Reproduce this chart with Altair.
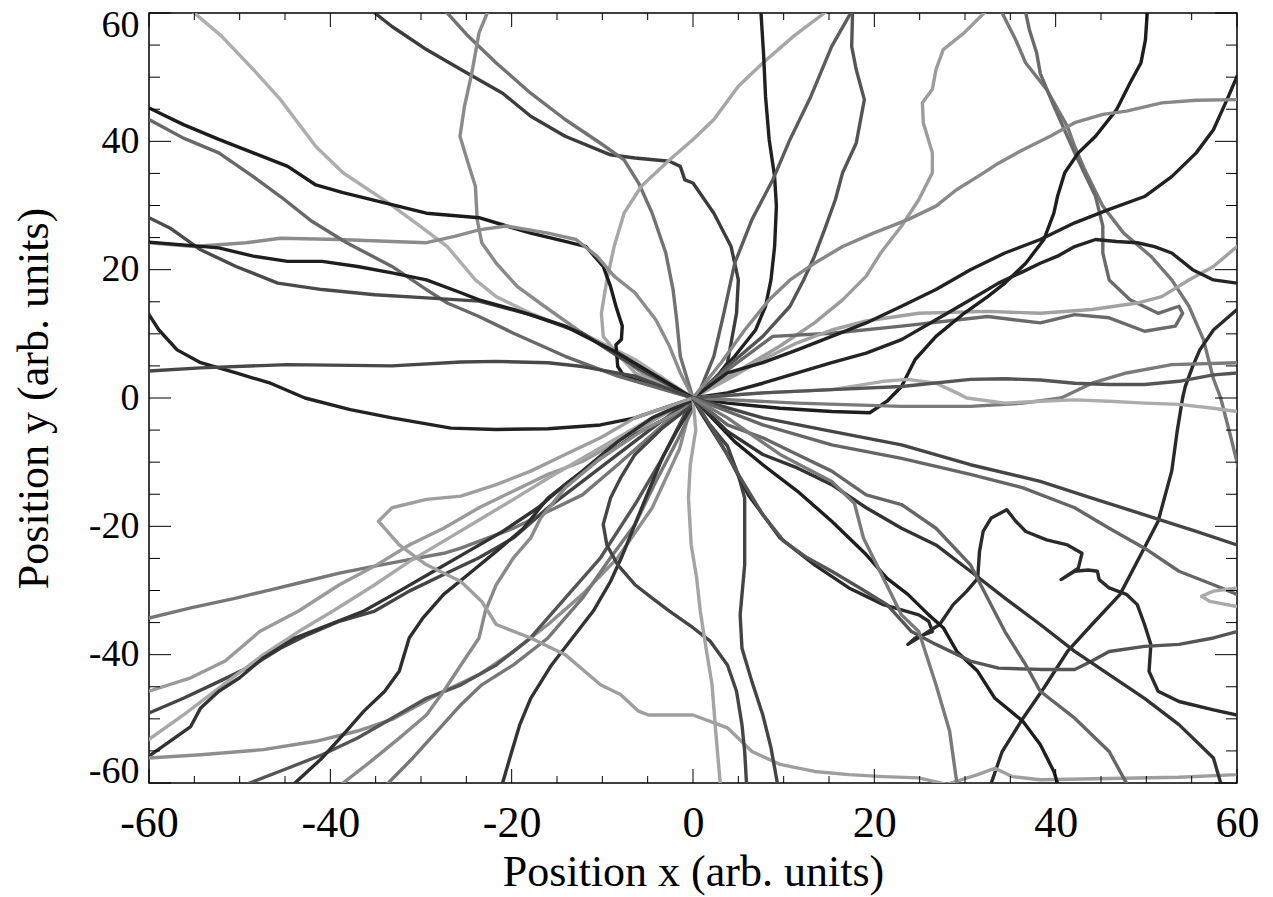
import altair as alt
import pandas as pd

# Random-walk trajectories, every one as a list of (x, y) points in arbitrary units.
t_a = [(0, 0), (-6.4, 6.0), (-12.2, 10.1), (-17.9, 13.2), (-21.7, 15.8), (-24.0, 18.4), (-27.1, 23.6), (-30.1, 26.8), (-33.6, 30.4), (-38.6, 35.1), (-41.6, 39.2), (-45.5, 46.5), (-48.5, 51.2), (-52.0, 56.4), (-55.0, 60), (-56, 61.5)]
t_b = [(0, 0), (1.9, 1.8), (3.8, 5.5), (4.8, 13.2), (5.0, 18.4), (4.2, 23.6), (2.3, 28.8), (0, 33.5), (-0.9, 34.0), (-1.4, 36.1), (-2.6, 36.9), (-6.4, 37.4), (-9.1, 37.9), (-14.1, 40.8), (-17.9, 43.9), (-21.0, 47.5), (-25.6, 51.2), (-29.4, 54.3), (-33.2, 57.9), (-35.1, 60), (-36, 61)]
t_c = [(0, 0), (-1.4, 6.5), (-1.8, 12.2), (-2.2, 16.9), (-3.0, 22.6), (-4.5, 28.8), (-6.0, 33.5), (-7.6, 37.1), (-10.2, 39.7), (-14.1, 43.4), (-17.9, 47.5), (-21.7, 52.2), (-24.8, 56.4), (-27.1, 60), (-28, 61)]
t_d = [(0, 0), (-4.5, 2.9), (-8.3, 6.5), (-12.2, 10.1), (-16.4, 14.3), (-19.4, 17.4), (-21.7, 21.0), (-23.3, 24.2), (-23.8, 27.8), (-24.0, 33.0), (-24.8, 36.6), (-25.7, 40.8), (-25.2, 45.5), (-24.4, 50.6), (-23.6, 56.9), (-22.7, 60), (-22.4, 61)]
t_e = [(0, 0), (-6.4, 3.9), (-8.7, 7.5), (-9.9, 9.6), (-10.1, 13.2), (-9.5, 18.4), (-8.7, 23.6), (-7.6, 28.8), (-5.7, 33.0), (-2.6, 37.1), (0, 40.3), (2.3, 43.4), (5.0, 48.6), (7.7, 52.2), (11.1, 56.4), (14.5, 60), (15.5, 61)]
t_f = [(0, 0), (-7.6, 3.4), (-8.3, 4.9), (-8.5, 8.3), (-7.9, 9.1), (-7.8, 11.2), (-8.5, 14.3), (-9.1, 17.4), (-9.9, 20.5), (-11.8, 23.6), (-14.1, 24.4), (-17.9, 25.7), (-21.0, 27.0), (-23.6, 28.1), (-29.4, 28.8), (-34.0, 30.4), (-38.6, 32.0), (-41.6, 33.2), (-44.7, 36.1), (-48.5, 38.2), (-52.3, 40.3), (-56.2, 42.6), (-60, 45.2), (-61, 45.8)]
t_g = [(0, 0), (-1.4, 3.9), (-2.6, 8.1), (-4.1, 12.2), (-6.4, 16.4), (-8.7, 19.0), (-10.6, 22.1), (-12.9, 24.7), (-16.0, 25.7), (-20.6, 26.8), (-23.6, 26.2), (-26.3, 25.2), (-29.4, 24.2), (-33.2, 24.4), (-39.0, 24.7), (-45.5, 24.9), (-49.3, 24.2), (-55.0, 23.6), (-60, 24.2), (-61, 24.3)]
t_h = [(0, 0), (-8.3, 3.4), (-14.1, 6.5), (-19.8, 10.1), (-23.6, 12.7), (-27.1, 14.8), (-29.4, 16.9), (-33.2, 20.5), (-38.2, 24.2), (-42.0, 27.5), (-45.5, 31.4), (-48.5, 34.5), (-52.3, 38.2), (-56.2, 40.5), (-60, 43.4), (-61, 44)]
t_i = [(0, 0), (-6.4, 4.9), (-12.2, 10.1), (-17.9, 13.0), (-23.6, 15.1), (-29.4, 15.6), (-35.1, 16.1), (-40.9, 16.9), (-45.8, 17.9), (-50.4, 20.5), (-54.3, 23.1), (-57.7, 26.5), (-60, 28.1), (-61, 28.8)]
t_j = [(0, 0), (-8.3, 7.0), (-14.1, 11.2), (-19.8, 13.8), (-23.6, 15.3), (-25.6, 16.4), (-29.4, 18.4), (-33.2, 19.5), (-37.0, 20.5), (-40.9, 21.3), (-44.7, 21.3), (-48.5, 22.1), (-52.3, 23.4), (-60, 24.3), (-61, 24.4)]
t_k = [(0, 0), (-6.4, -3.1), (-10.2, -4.2), (-16.0, -4.8), (-21.7, -4.9), (-26.7, -4.7), (-33.2, -3.1), (-37.8, -1.8), (-42.8, 0), (-46.6, 2.3), (-50.4, 3.9), (-54.3, 5.5), (-56.9, 7.5), (-58.9, 10.6), (-60, 13.0), (-61, 15)]
t_l = [(0, 0), (-6.4, 3.4), (-12.2, 4.9), (-16.0, 5.5), (-21.7, 5.7), (-25.6, 5.6), (-33.2, 5.0), (-44.7, 5.2), (-54.3, 4.7), (-60, 4.2), (-61, 4.1)]
t_n = [(0, 0), (2.3, 2.9), (4.6, 6.5), (6.9, 10.6), (8.0, 14.3), (8.6, 18.4), (9.0, 23.6), (9.2, 29.9), (9.0, 34.5), (8.4, 40.3), (8.0, 47.0), (7.8, 53.2), (7.5, 60), (7.5, 61)]
t_o = [(0, 0), (0.8, 1.3), (2.3, 6.5), (3.4, 13.2), (4.6, 21.0), (6.5, 27.8), (8.8, 34.0), (10.7, 40.3), (13.0, 47.0), (15.3, 54.8), (17.4, 60), (17.8, 61)]
t_p = [(0, 0), (3.8, 4.9), (7.7, 9.6), (10.7, 14.3), (12.2, 18.4), (13.4, 22.1), (14.5, 26.2), (15.7, 30.9), (16.5, 35.1), (18.0, 39.7), (18.9, 46.5), (18.0, 51.2), (17.5, 54.8), (17.6, 60), (17.6, 61)]
t_q = [(0, 0), (4.6, 3.9), (9.6, 8.1), (13.4, 11.7), (16.5, 15.3), (19.1, 19.0), (20.7, 22.6), (23.0, 26.8), (24.9, 30.9), (26.4, 35.1), (26.4, 38.2), (25.4, 42.9), (25.3, 46.0), (26.4, 48.1), (26.8, 51.2), (27.6, 54.3), (29.9, 56.9), (32.1, 60), (33, 61)]
t_r = [(33.5, 61.5), (34.1, 60), (35.6, 55.8), (36.7, 52.2), (39.0, 48.1), (41.3, 42.3), (42.1, 39.2), (43.2, 35.6), (45.2, 29.9), (47.5, 25.7), (50.5, 22.1), (52.8, 18.4), (54.7, 14.3), (56.3, 9.1), (57.4, 3.0), (58.2, 0), (59.3, -6.0), (60, -10), (60.5, -13)]
t_s = [(0, 0), (3.8, 4.4), (8.8, 9.6), (15.3, 10.1), (23.0, 11.2), (32.5, 12.7), (38.3, 11.7), (42.1, 13.0), (45.9, 12.5), (49.8, 10.4), (53.2, 11.2), (54.0, 13.2), (53.6, 14.3), (51.3, 13.2), (48.2, 15.3), (45.9, 18.4), (45.2, 22.6), (45.2, 26.8), (44.4, 31.4), (42.1, 38.2), (39.8, 45.5), (38.3, 50.6), (37.9, 53.8), (37.1, 57.4), (36.7, 60), (36.6, 61)]
t_t = [(0, 0), (3.8, 2.9), (7.7, 6.0), (11.5, 8.6), (15.3, 10.6), (19.1, 12.0), (24.9, 13.2), (32.5, 13.5), (38.3, 13.2), (44.0, 13.8), (49.0, 14.8), (51.7, 15.8), (54.7, 18.4), (57.4, 20.5), (60, 23.6), (61, 25)]
t_u = [(0, 0), (3.8, -0.8), (9.6, -1.6), (15.3, -2.1), (19.5, -2.3), (21.4, -0.5), (23.0, 1.8), (24.5, 6.0), (26.8, 9.6), (29.9, 13.2), (32.5, 15.8), (34.4, 17.9), (36.7, 21.0), (38.7, 24.7), (39.8, 28.8), (40.2, 31.4), (41.0, 35.1), (42.5, 38.2), (44.4, 40.8), (46.7, 44.9), (48.2, 49.1), (49.4, 52.2), (49.9, 55.8), (50.1, 60), (50.1, 61)]
t_v = [(0, 0), (3.8, 3.9), (7.7, 5.5), (11.5, 7.5), (15.3, 9.6), (19.1, 11.7), (23.0, 14.3), (26.8, 16.9), (30.6, 20.0), (34.4, 22.6), (38.3, 24.7), (42.1, 27.3), (45.9, 29.4), (49.8, 31.4), (52.8, 34.5), (55.5, 38.2), (57.4, 41.8), (58.9, 46.5), (60, 50.1), (60.5, 52)]
t_w = [(0, 0), (3.8, 0.8), (7.7, 2.3), (11.5, 3.9), (15.3, 5.5), (19.1, 7.0), (23.0, 9.1), (26.8, 12.2), (30.6, 15.3), (33.7, 17.9), (36.4, 19.7), (38.3, 21.0), (40.2, 22.1), (42.1, 23.6), (44.4, 24.7), (46.7, 24.4), (49.0, 24.2), (50.9, 23.6), (52.8, 22.6), (55.1, 20.0), (57.4, 18.4), (60, 17.9), (61, 17.8)]
t_x = [(0, 0), (3.1, 5.5), (5.7, 10.6), (8.4, 15.3), (10.7, 18.4), (13.4, 21.0), (16.5, 23.6), (19.9, 25.7), (23.7, 27.8), (26.8, 29.9), (29.1, 32.5), (31.4, 34.5), (33.7, 36.6), (36.4, 38.7), (39.4, 40.8), (42.1, 42.9), (45.2, 44.2), (47.8, 44.7), (51.7, 46.0), (55.5, 46.4), (60, 46.5), (61, 46.5)]
t_y = [(62, 18), (60, 13.8), (57.4, 10.6), (55.9, 7.5), (55.1, 4.9), (54.3, 1.8), (54.0, 0), (53.4, -5.2), (52.8, -11.4), (51.3, -19.2), (49.4, -24.4), (47.1, -30.6), (44.0, -35.3), (41.3, -39.5), (38.7, -45.2), (36.4, -49.9), (34.1, -55.1), (32.9, -60), (32.5, -61)]
t_z = [(0, 0), (11.5, -0.8), (23.0, -1.3), (30.6, -1.3), (36.4, -0.8), (40.6, 0), (44.0, 2.3), (47.8, 3.9), (52.8, 5.2), (60, 5.5), (61, 5.5)]
t_aa = [(0, 0), (7.7, 0.8), (15.3, 1.3), (21.0, 2.6), (23.7, 2.9), (26.8, 2.3), (29.1, 0.8), (30.2, 0), (34.4, -0.8), (38.3, -0.5), (42.1, -0.3), (45.9, -0.5), (49.8, -0.8), (53.6, -1.0), (57.4, -1.6), (60, -2.1), (61, -2.3)]
t_bb = [(0, 0), (7.7, 0.8), (15.3, 1.3), (23.0, 1.8), (30.6, 2.9), (34.4, 3.0), (38.3, 2.8), (42.1, 2.3), (45.9, 2.1), (49.8, 2.1), (53.6, 2.6), (57.4, 3.6), (60, 3.9), (61, 4)]
t_cc = [(0, 0), (-4.5, -5.7), (-8.3, -10.4), (-12.2, -15.1), (-16.0, -17.7), (-19.8, -20.3), (-25.6, -23.4), (-27.5, -24.2), (-31.3, -25.2), (-35.1, -26.2), (-39.0, -27.3), (-42.8, -28.6), (-46.6, -29.9), (-50.4, -31.2), (-55.4, -32.7), (-60, -34.3), (-61, -34.6)]
t_dd = [(0, 0), (-4.5, -3.6), (-8.3, -6.8), (-12.2, -9.9), (-16.0, -11.9), (-19.8, -14.5), (-23.6, -17.1), (-27.5, -20.3), (-31.3, -22.9), (-35.1, -26.2), (-39.0, -29.1), (-43.5, -33.2), (-47.8, -36.4), (-51.6, -41.0), (-55.4, -43.6), (-60, -45.7), (-61, -46)]
t_ee = [(0, 0), (-4.5, -4.7), (-8.3, -8.8), (-12.2, -13.0), (-16.0, -17.1), (-19.8, -21.8), (-23.6, -24.9), (-27.5, -27.5), (-31.3, -30.1), (-35.1, -33.2), (-39.0, -34.8), (-42.8, -37.1), (-45.5, -39.0), (-48.5, -41.6), (-52.3, -44.2), (-56.2, -46.8), (-60, -49.1), (-61, -49.6)]
t_ff = [(0, 0), (-4.5, -3.1), (-8.3, -6.2), (-12.2, -9.4), (-16.0, -12.5), (-19.8, -15.8), (-23.6, -19.0), (-27.5, -22.3), (-31.3, -25.5), (-35.1, -29.1), (-39.7, -33.2), (-43.5, -36.4), (-47.4, -40.0), (-52.3, -45.2), (-56.2, -49.4), (-60, -53.2), (-61, -54)]
t_gg = [(0, -1.0), (-6.4, -5.7), (-10.2, -9.4), (-14.1, -13.5), (-17.1, -17.1), (-21.0, -20.8), (-24.8, -23.9), (-28.6, -27.0), (-32.4, -30.1), (-36.3, -33.2), (-40.1, -35.3), (-43.9, -37.4), (-47.4, -40.5), (-50.0, -43.6), (-52.3, -45.7), (-54.3, -48.3), (-55.4, -51.2), (-57.7, -53.5), (-60, -55.8), (-61, -56.5)]
t_hh = [(0, 0), (-1.5, -8.0), (-4.5, -17.1), (-8.3, -24.9), (-12.2, -30.6), (-16.0, -35.3), (-19.8, -39.5), (-23.6, -43.1), (-27.5, -45.7), (-33.2, -50.1), (-37.0, -51.9), (-41.6, -53.5), (-47.4, -54.8), (-54.3, -55.6), (-60, -56.1), (-61, -56.2)]
t_ii = [(0, 0), (-3.4, -9.4), (-6.4, -16.6), (-10.2, -24.9), (-14.1, -31.2), (-18.0, -37.5), (-21.7, -41.6), (-25.6, -44.7), (-29.4, -46.8), (-33.2, -49.9), (-37.0, -53.0), (-40.9, -55.6), (-44.7, -57.7), (-48.9, -60), (-50.5, -61)]
t_jj = [(0, -0.3), (-4.5, -3.1), (-8.3, -6.8), (-12.2, -11.4), (-16.0, -15.6), (-18.7, -20.3), (-21.7, -23.9), (-24.8, -27.5), (-27.5, -30.6), (-29.8, -34.3), (-31.3, -37.4), (-32.4, -42.6), (-34.0, -45.7), (-36.3, -48.8), (-38.6, -52.5), (-40.9, -56.1), (-43.9, -60), (-44.7, -61)]
t_kk = [(0, -1.0), (-5.7, -5.2), (-10.2, -9.4), (-14.1, -14.0), (-16.8, -18.7), (-17.9, -21.8), (-19.8, -24.9), (-21.7, -29.1), (-22.9, -33.2), (-23.6, -37.4), (-25.6, -41.6), (-27.5, -45.7), (-29.4, -49.4), (-32.4, -53.0), (-35.5, -56.6), (-38.6, -60), (-39.5, -61)]
t_ll = [(0, -1.6), (-1.8, -6.8), (-4.1, -13.0), (-6.4, -19.7), (-9.1, -24.9), (-12.2, -31.2), (-16.0, -37.4), (-19.8, -41.6), (-23.3, -44.7), (-25.6, -47.8), (-27.9, -51.4), (-30.9, -56.1), (-33.6, -60), (-34.4, -61)]
t_mm = [(0, -1.0), (-1.8, -5.2), (-3.4, -9.4), (-4.9, -14.5), (-6.4, -19.7), (-7.9, -24.9), (-9.1, -28.6), (-11.0, -33.2), (-13.3, -37.4), (-15.6, -41.6), (-17.9, -46.8), (-19.1, -50.9), (-20.2, -56.1), (-21.0, -60), (-21.2, -61)]
t_nn = [(0, 0), (-6.4, -3.1), (-10.2, -6.2), (-14.1, -8.8), (-17.9, -11.4), (-21.7, -13.5), (-25.6, -15.3), (-29.4, -15.8), (-33.2, -17.1), (-34.7, -19.2), (-32.4, -22.9), (-29.4, -26.0), (-25.6, -28.6), (-23.3, -31.7), (-21.7, -35.3), (-17.9, -37.4), (-14.1, -40.0), (-10.2, -44.7), (-8.0, -46.2), (-6.0, -48.8), (-4.9, -49.4), (0, -49.4), (3.8, -51.4), (6.5, -55.1), (9.6, -57.1), (13.4, -58.2), (17.2, -58.7), (21.0, -59.0), (24.9, -59.2), (28.0, -60.2), (31.4, -58.7), (33.3, -57.7), (35.2, -59.0), (38.3, -59.5), (45.9, -59.3), (53.6, -59.1), (60, -58.7), (61, -58.6)]
t_ab = [(0, -1.0), (-3.4, -4.7), (-6.4, -8.8), (-8.0, -12.5), (-9.1, -15.6), (-9.9, -19.7), (-9.5, -22.9), (-8.3, -26.0), (-6.4, -29.1), (-4.5, -31.2), (-2.6, -33.2), (0, -35.8), (1.9, -37.9), (3.8, -41.6), (4.8, -45.7), (5.4, -50.9), (5.7, -55.1), (5.9, -60), (6.0, -61)]
t_pp = [(0, 0), (0.3, -5.0), (-0.3, -10.4), (-0.5, -15.6), (-0.2, -22.9), (0.4, -28.0), (0.8, -33.2), (1.5, -39.5), (2.1, -44.7), (2.5, -51.9), (3.0, -60), (3.1, -61)]
t_zz = [(0, 0), (1.5, -3.5), (3.8, -7.5), (5.0, -12.0), (5.7, -15.6), (5.7, -26.0), (5.2, -33.8), (5.4, -39.0), (6.5, -44.2), (7.7, -49.4), (8.6, -54.5), (9.3, -60), (9.4, -61)]
t_qq = [(0, 0), (7.7, -3.1), (15.3, -5.2), (23.0, -7.3), (30.6, -10.4), (38.3, -13.0), (44.0, -15.6), (49.8, -18.2), (55.5, -20.8), (60, -22.9), (61, -23.3)]
t_rr = [(0, 0), (7.7, -4.2), (15.3, -7.3), (23.0, -9.4), (30.6, -11.9), (36.4, -14.0), (42.1, -17.1), (45.9, -20.3), (49.8, -23.4), (53.6, -27.0), (57.4, -29.1), (60, -30.6), (61, -31)]
t_ss = [(61, -29.3), (60, -29.6), (57.4, -30.1), (56.1, -30.9), (57.0, -31.7), (60, -32.5), (61, -32.8)]
t_tt = [(0, 0), (0.8, -2.1), (3.8, -8.8), (6.1, -15.1), (9.6, -21.8), (13.4, -26.0), (17.2, -29.6), (21.0, -32.2), (24.9, -33.8), (26.0, -34.8), (26.4, -36.4), (24.5, -37.4), (23.7, -38.4), (25.3, -37.0), (27.2, -35.3), (28.7, -32.2), (30.2, -30.1), (31.4, -28.1), (31.6, -23.9), (32.0, -20.8), (32.9, -18.7), (34.6, -17.4), (35.6, -19.2), (36.7, -20.8), (39.0, -22.1), (41.3, -22.9), (42.9, -24.2), (42.5, -26.5), (40.6, -28.3), (42.1, -27.0), (43.6, -26.8), (44.6, -27.0), (44.8, -28.3), (45.9, -29.6), (47.8, -30.6), (49.0, -32.2), (49.8, -35.3), (50.5, -38.4), (50.3, -42.6), (51.3, -45.7), (53.6, -47.3), (57.4, -48.6), (60, -49.4), (61, -49.6)]
t_uu = [(0, 0), (4.6, -6.8), (7.7, -10.4), (11.5, -14.5), (15.3, -19.2), (19.1, -24.4), (21.4, -28.1), (23.7, -30.6), (26.0, -33.8), (27.6, -35.8), (29.1, -39.5), (31.4, -42.6), (33.3, -46.8), (36.4, -50.4), (38.3, -54.0), (39.8, -58.2), (40.2, -60), (40.4, -61)]
t_vv = [(0, 0), (2.3, -5.2), (5.0, -11.9), (7.7, -18.2), (10.0, -22.3), (12.6, -24.9), (15.3, -27.0), (18.4, -29.6), (21.4, -32.2), (24.1, -36.4), (26.8, -38.4), (30.6, -41.0), (33.7, -42.1), (38.3, -42.3), (42.1, -42.3), (44.0, -41.0), (45.9, -39.5), (49.8, -38.7), (53.6, -38.4), (57.4, -37.4), (60, -36.4), (61, -36)]
t_ww = [(0, 0), (3.8, -5.2), (7.7, -8.8), (11.5, -10.9), (15.3, -13.5), (19.1, -17.1), (23.0, -20.3), (26.8, -22.9), (30.6, -27.0), (34.4, -31.2), (38.3, -35.3), (42.1, -39.5), (45.9, -43.1), (49.8, -46.8), (53.6, -50.9), (57.4, -56.1), (58.2, -60), (58.5, -61)]
t_xx = [(0, 0), (3.8, -4.2), (7.7, -6.2), (11.5, -8.8), (15.3, -11.4), (19.1, -15.1), (23.0, -16.6), (26.8, -20.3), (30.6, -26.0), (32.5, -31.2), (34.4, -36.4), (36.7, -41.6), (38.3, -45.7), (42.1, -49.9), (45.9, -55.1), (47.8, -60), (48.2, -61)]
t_yy = [(0, 0), (3.8, -3.1), (9.6, -8.8), (15.3, -13.0), (17.8, -16.4), (18.8, -21.8), (21.0, -28.1), (23.0, -33.8), (24.9, -36.4), (26.8, -44.7), (28.3, -51.9), (29.1, -60), (29.2, -61)]

# Grey level of each trajectory.
TRACKS = [
    (t_a, "#adadad"), (t_b, "#3c3c3c"), (t_c, "#727272"), (t_d, "#8a8a8a"),
    (t_e, "#a6a6a6"), (t_f, "#1c1c1c"), (t_g, "#8c8c8c"), (t_h, "#686868"),
    (t_i, "#4a4a4a"), (t_j, "#1e1e1e"), (t_k, "#222222"), (t_l, "#484848"),
    (t_n, "#202020"), (t_o, "#5c5c5c"), (t_p, "#555555"), (t_q, "#9c9c9c"),
    (t_r, "#777777"), (t_s, "#6a6a6a"), (t_t, "#a2a2a2"), (t_u, "#1e1e1e"),
    (t_v, "#222222"), (t_w, "#242424"), (t_x, "#888888"), (t_y, "#2a2a2a"),
    (t_z, "#7a7a7a"), (t_aa, "#acacac"), (t_bb, "#555555"), (t_cc, "#777777"),
    (t_dd, "#9a9a9a"), (t_ee, "#444444"), (t_ff, "#a8a8a8"), (t_gg, "#333333"),
    (t_hh, "#8e8e8e"), (t_ii, "#555555"), (t_jj, "#2e2e2e"), (t_kk, "#8a8a8a"),
    (t_ll, "#777777"), (t_mm, "#333333"), (t_nn, "#9e9e9e"), (t_ab, "#454545"),
    (t_pp, "#a4a4a4"), (t_zz, "#444444"), (t_qq, "#454545"),
    (t_rr, "#666666"), (t_ss, "#aaaaaa"), (t_tt, "#2a2a2a"), (t_uu, "#1e1e1e"),
    (t_vv, "#555555"), (t_ww, "#333333"), (t_xx, "#666666"), (t_yy, "#7a7a7a"),
]

MAJOR = [-60, -40, -20, 0, 20, 40, 60]
MINOR = [v for v in range(-60, 61, 5) if v % 20 != 0]

W, H = 1088, 770
FONT = "Liberation Serif"
PLAIN_MINUS = "replace(format(datum.value, 'd'), '\u2212', '-')"

rows = []
for k, (pts, shade) in enumerate(TRACKS):
    for i, (x, y) in enumerate(pts):
        rows.append({"track": k, "step": i, "x": x, "y": y, "shade": shade})
df = pd.DataFrame(rows)

xs = alt.Scale(domain=[-60, 60], nice=False, zero=False)
ys = alt.Scale(domain=[-60, 60], nice=False, zero=False)

lines = alt.Chart(df).mark_line(clip=True, strokeWidth=3.4, strokeJoin="round", strokeCap="round").encode(
    x=alt.X("x:Q", scale=xs, axis=alt.Axis(
        values=MAJOR, ticks=False, domain=False, grid=False, labelFlush=False,
        labelExpr=PLAIN_MINUS,
        labelFont=FONT, labelFontSize=44, labelPadding=18, labelColor="black",
        title="Position x (arb. units)", titleFont=FONT, titleFontSize=44,
        titleFontWeight="normal", titleColor="black", titlePadding=5)),
    y=alt.Y("y:Q", scale=ys, axis=alt.Axis(
        values=MAJOR, ticks=False, domain=False, grid=False,
        labelFlush=True, labelFlushOffset=7,
        labelExpr=PLAIN_MINUS,
        labelFont=FONT, labelFontSize=38, labelPadding=10, labelColor="black",
        title="Position y (arb. units)", titleFont=FONT, titleFontSize=44,
        titleFontWeight="normal", titleColor="black", titlePadding=32)),
    detail="track:N",
    order="step:Q",
    color=alt.Color("shade:N", scale=None),
)

xmaj = pd.DataFrame({"v": MAJOR})
xmin = pd.DataFrame({"v": MINOR})

def xticks(data, length):
    bottom = alt.Chart(data).mark_rule(color="black", strokeWidth=1).encode(
        x=alt.X("v:Q", scale=xs), y=alt.value(H), y2=alt.value(H - length))
    top = alt.Chart(data).mark_rule(color="black", strokeWidth=1).encode(
        x=alt.X("v:Q", scale=xs), y=alt.value(0), y2=alt.value(length))
    return bottom + top

def yticks(data, length):
    left = alt.Chart(data).mark_rule(color="black", strokeWidth=1).encode(
        y=alt.Y("v:Q", scale=ys), x=alt.value(0), x2=alt.value(length))
    right = alt.Chart(data).mark_rule(color="black", strokeWidth=1).encode(
        y=alt.Y("v:Q", scale=ys), x=alt.value(W), x2=alt.value(W - length))
    return left + right

chart = alt.layer(
    lines,
    xticks(xmaj, 14), xticks(xmin, 7),
    yticks(xmaj, 22), yticks(xmin, 11),
).properties(
    width=W, height=H,
    autosize=alt.AutoSizeParams(type="none"),
    padding={"left": 149, "top": 13, "right": 36, "bottom": 114},
    background="white",
).configure_view(stroke="black", strokeWidth=1.5)

chart.save("out.html", embed_options={"renderer": "svg", "actions": False})
